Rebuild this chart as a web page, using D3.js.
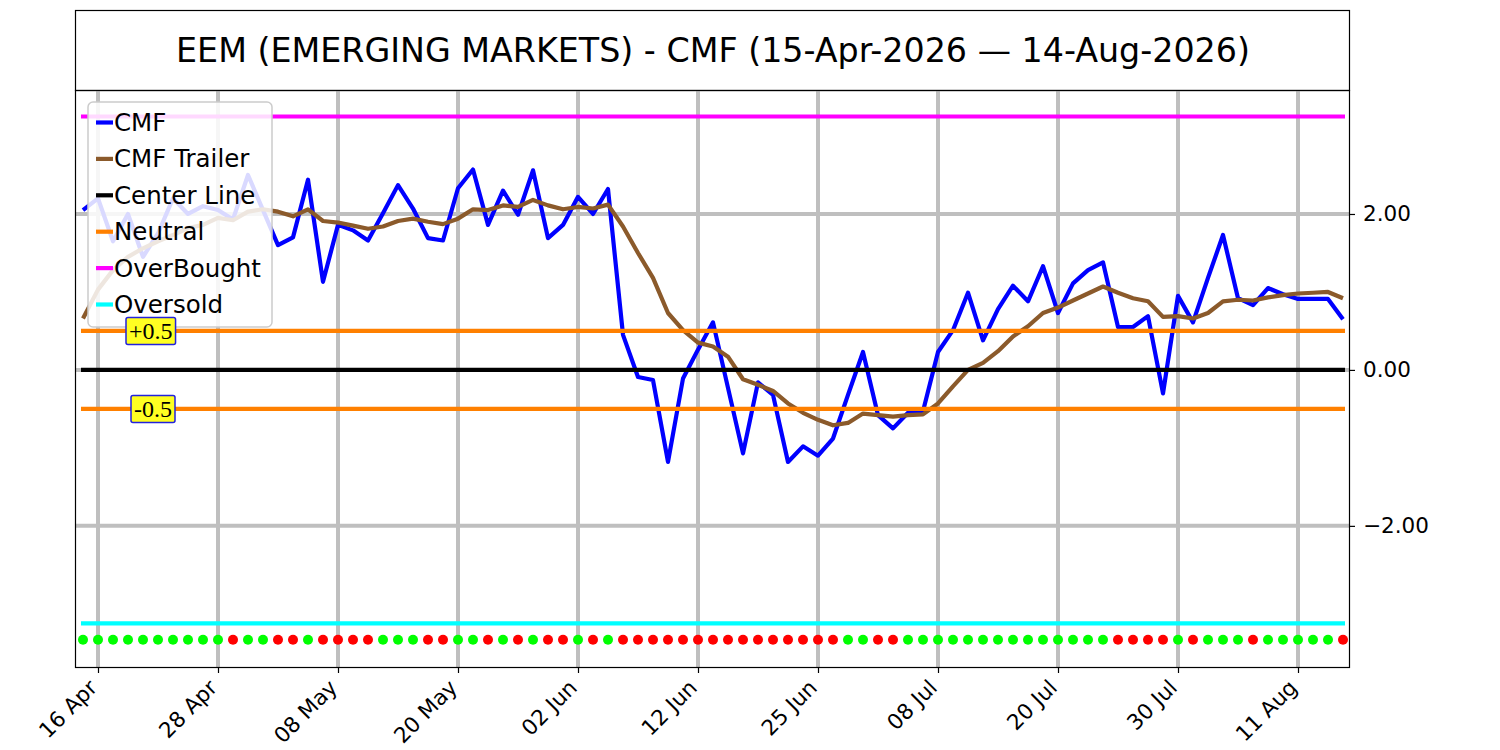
<!DOCTYPE html>
<html>
<head>
<meta charset="utf-8">
<script src="https://cdn.jsdelivr.net/npm/d3@7"></script>
<style>
  body { margin: 0; background: #fff; }
  svg { display: block; font-family: "DejaVu Sans", sans-serif; }
</style>
</head>
<body>
<svg id="chart" width="1500" height="750"></svg>
<script>
(function() {

// trading days, 15 Apr 2026 .. 14 Aug 2026
const dates = [
  '2026-04-15','2026-04-16','2026-04-17','2026-04-20','2026-04-21','2026-04-22','2026-04-23','2026-04-24','2026-04-27','2026-04-28',
  '2026-04-29','2026-04-30','2026-05-01','2026-05-04','2026-05-05','2026-05-06','2026-05-07','2026-05-08','2026-05-11','2026-05-12',
  '2026-05-13','2026-05-14','2026-05-15','2026-05-18','2026-05-19','2026-05-20','2026-05-21','2026-05-22','2026-05-26','2026-05-27',
  '2026-05-28','2026-05-29','2026-06-01','2026-06-02','2026-06-03','2026-06-04','2026-06-05','2026-06-08','2026-06-09','2026-06-10',
  '2026-06-11','2026-06-12','2026-06-15','2026-06-16','2026-06-17','2026-06-18','2026-06-22','2026-06-23','2026-06-24','2026-06-25',
  '2026-06-26','2026-06-29','2026-06-30','2026-07-01','2026-07-02','2026-07-06','2026-07-07','2026-07-08','2026-07-09','2026-07-10',
  '2026-07-13','2026-07-14','2026-07-15','2026-07-16','2026-07-17','2026-07-20','2026-07-21','2026-07-22','2026-07-23','2026-07-24',
  '2026-07-27','2026-07-28','2026-07-29','2026-07-30','2026-07-31','2026-08-03','2026-08-04','2026-08-05','2026-08-06','2026-08-07',
  '2026-08-10','2026-08-11','2026-08-12','2026-08-13','2026-08-14'
];

const cmf = [
  2.05, 2.20, 1.65, 2.00, 1.45, 1.75, 2.20, 2.00, 2.10, 2.05,
  1.93, 2.50, 2.05, 1.60, 1.70, 2.44, 1.13, 1.86, 1.79, 1.66,
  2.01, 2.37, 2.07, 1.69, 1.66, 2.33, 2.57, 1.86, 2.30, 1.99,
  2.56, 1.69, 1.86, 2.22, 2.00, 2.32, 0.45, -0.09, -0.13, -1.18,
  -0.11, 0.26, 0.61, -0.23, -1.07, -0.16, -0.32, -1.18, -0.98, -1.10,
  -0.88, -0.32, 0.23, -0.58, -0.75, -0.55, -0.53, 0.23, 0.51, 0.99,
  0.38, 0.78, 1.08, 0.88, 1.33, 0.73, 1.11, 1.28, 1.38, 0.55,
  0.55, 0.69, -0.30, 0.95, 0.61, 1.18, 1.73, 0.92, 0.83, 1.05,
  0.97, 0.91, 0.91, 0.91, 0.65
];

const trailer = [
  0.66, 1.03, 1.28, 1.45, 1.56, 1.65, 1.73, 1.82, 1.86, 1.95,
  1.92, 2.03, 2.06, 2.03, 1.97, 2.06, 1.91, 1.89, 1.85, 1.81,
  1.84, 1.91, 1.94, 1.90, 1.87, 1.94, 2.06, 2.05, 2.11, 2.09,
  2.18, 2.11, 2.06, 2.09, 2.07, 2.12, 1.84, 1.50, 1.18, 0.73,
  0.51, 0.35, 0.30, 0.17, -0.12, -0.19, -0.27, -0.43, -0.55, -0.64,
  -0.71, -0.68, -0.56, -0.58, -0.60, -0.58, -0.57, -0.43, -0.21, 0.00,
  0.09, 0.24, 0.43, 0.56, 0.73, 0.80, 0.89, 0.98, 1.07, 0.99,
  0.92, 0.88, 0.68, 0.69, 0.66, 0.73, 0.88, 0.90, 0.89, 0.93,
  0.96, 0.98, 0.99, 1.00, 0.92
];

// 1 = green dot, 0 = red dot
const signal = [
  1,1,1,1,1,1,1,1,1,1, 0,1,1,0,0,1,0,0,0,0,
  1,1,1,0,0,1,1,0,1,0, 1,0,0,1,0,1,0,0,0,0,
  0,0,0,0,0,0,0,0,0,0, 0,1,1,0,0,1,1,1,1,1,
  1,1,1,1,1,1,1,1,1,0, 0,0,0,1,0,1,1,1,0,1,
  1,1,1,1,0
];

const levels = { overBought: 3.25, overSold: -3.25, neutral: 0.5, center: 0 };
const dotLevel = -3.46;
const xTickIdx = [1, 9, 17, 25, 33, 41, 49, 57, 65, 73, 81];
const yTicks = [-2, 0, 2];
const title = 'EEM (EMERGING MARKETS) - CMF (15-Apr-2026 \u2014 14-Aug-2026)';

const svg = d3.select('#chart');
const plot = {left: 75, right: 1349, top: 90, bottom: 667};
const sansFont = '"DejaVu Sans", sans-serif';

var x = d3.scaleLinear()
    .domain([-0.533, 84.4])
    .range([plot.left, plot.right]);
var y = d3.scaleLinear()
    .domain([-3.81, 3.59])
    .range([plot.bottom, plot.top]);

var parse = d3.timeParse('%Y-%m-%d');
var fmt = d3.timeFormat('%d %b');

// title box
svg.append('rect')
    .attr('x', plot.left + 0.5).attr('y', 10.5)
    .attr('width', plot.right - plot.left).attr('height', plot.top - 10)
    .attr('fill', 'none').attr('stroke', '#000').attr('stroke-width', 1.2);
svg.append('text')
    .attr('x', (plot.left + plot.right) / 2 + 1).attr('y', 50)
    .attr('text-anchor', 'middle').attr('dominant-baseline', 'central')
    .attr('font-family', sansFont)
    .style('font-size', '33.3px').text(title);

var g = svg.append('g');

// grid
g.selectAll('.vgrid').data(xTickIdx).enter().append('line')
    .attr('x1', d => x(d)).attr('x2', d => x(d))
    .attr('y1', plot.top).attr('y2', plot.bottom)
    .attr('stroke', '#bfbfbf').attr('stroke-width', 4);
g.selectAll('.hgrid').data(yTicks).enter().append('line')
    .attr('x1', plot.left).attr('x2', plot.right)
    .attr('y1', d => y(d)).attr('y2', d => y(d))
    .attr('stroke', '#bfbfbf').attr('stroke-width', 4);

var line = d3.line().x((d, i) => x(i)).y(d => y(d));

g.append('path').datum(cmf)
    .attr('d', line).attr('fill', 'none')
    .attr('stroke', '#0000ff').attr('stroke-width', 4.2).attr('stroke-linejoin', 'round');
g.append('path').datum(trailer)
    .attr('d', line).attr('fill', 'none')
    .attr('stroke', '#8b5a2b').attr('stroke-width', 4.2).attr('stroke-linejoin', 'round');

var hlines = [
  {v: levels.neutral, c: '#ff8000'},
  {v: -levels.neutral, c: '#ff8000'},
  {v: levels.center, c: '#000000'},
  {v: levels.overBought, c: '#ff00ff'},
  {v: levels.overSold, c: '#00ffff'}
];
g.selectAll('.hl').data(hlines).enter().append('line')
    .attr('x1', x(0) - 2).attr('x2', x(cmf.length - 1) + 2)
    .attr('y1', d => y(d.v)).attr('y2', d => y(d.v))
    .attr('stroke', d => d.c).attr('stroke-width', 4.2);

// signal dots
g.selectAll('.dot').data(signal).enter().append('circle')
    .attr('cx', (d, i) => x(i)).attr('cy', y(dotLevel))
    .attr('r', 5)
    .attr('fill', d => d ? '#00ff00' : '#ff0000');

// axes frame
svg.append('rect')
    .attr('x', plot.left + 0.5).attr('y', plot.top + 0.5)
    .attr('width', plot.right - plot.left).attr('height', plot.bottom - plot.top)
    .attr('fill', 'none').attr('stroke', '#000').attr('stroke-width', 1.2);

// x axis
var xAxis = svg.append('g')
    .attr('transform', 'translate(0,' + plot.bottom + ')')
    .call(d3.axisBottom(x).tickValues(xTickIdx).tickSize(6).tickFormat(''));
xAxis.attr('font-family', sansFont);
xAxis.select('.domain').remove();
xAxis.selectAll('.tick line').attr('stroke-width', 1.2);
xAxis.selectAll('.tick').append('text')
    .attr('fill', '#000')
    .attr('font-family', sansFont)
    .style('font-size', '21.5px')
    .attr('text-anchor', 'end')
    .attr('transform', 'translate(0,22) rotate(-45)')
    .text(d => fmt(parse(dates[d])));

// y axis on right
var yAxis = svg.append('g')
    .attr('transform', 'translate(' + plot.right + ',0)')
    .call(d3.axisRight(y).tickValues(yTicks).tickSize(6).tickPadding(8).tickFormat(d3.format('.2f')));
yAxis.attr('font-family', sansFont);
yAxis.select('.domain').remove();
yAxis.selectAll('.tick line').attr('stroke-width', 1.2);
yAxis.selectAll('.tick text').style('font-size', '21.5px').attr('font-family', sansFont);

// legend
var legendItems = [
  {name: 'CMF', c: '#0000ff'},
  {name: 'CMF Trailer', c: '#8b5a2b'},
  {name: 'Center Line', c: '#000000'},
  {name: 'Neutral', c: '#ff8000'},
  {name: 'OverBought', c: '#ff00ff'},
  {name: 'Oversold', c: '#00ffff'}
];
var legend = svg.append('g').attr('transform', 'translate(88,102)');
legend.append('rect')
    .attr('width', 184).attr('height', 225).attr('rx', 5)
    .attr('fill', 'rgba(255,255,255,0.85)').attr('stroke', '#cccccc').attr('stroke-width', 1.5);
var rows = legend.selectAll('.item').data(legendItems).enter().append('g')
    .attr('transform', (d, i) => 'translate(0,' + (20.5 + i * 36.4) + ')');
rows.append('line')
    .attr('x1', 8).attr('x2', 25)
    .attr('stroke', d => d.c).attr('stroke-width', 4.2);
rows.append('text')
    .attr('x', 26).attr('dominant-baseline', 'central')
    .attr('font-family', sansFont)
    .style('font-size', '24.5px').text(d => d.name);

// neutral labels, drawn over the legend
[{t: '+0.5', v: levels.neutral, x0: 126}, {t: '-0.5', v: -levels.neutral, x0: 131}].forEach(function(d) {
    var lg = svg.append('g').attr('transform', 'translate(' + d.x0 + ',' + y(d.v) + ')');
    var tx = lg.append('text')
        .attr('x', 3).attr('y', 0)
        .attr('dominant-baseline', 'central')
        .attr('font-family', '"Liberation Serif", "DejaVu Serif", serif')
        .style('font-size', '24px').text(d.t);
    var bb = tx.node().getBBox();
    lg.insert('rect', 'text')
        .attr('x', bb.x - 3).attr('y', -13.5)
        .attr('width', bb.width + 6).attr('height', 27)
        .attr('rx', 2)
        .attr('fill', '#ffff22').attr('stroke', '#2222dd').attr('stroke-width', 1.5);
});

})();
</script>
</body>
</html>
